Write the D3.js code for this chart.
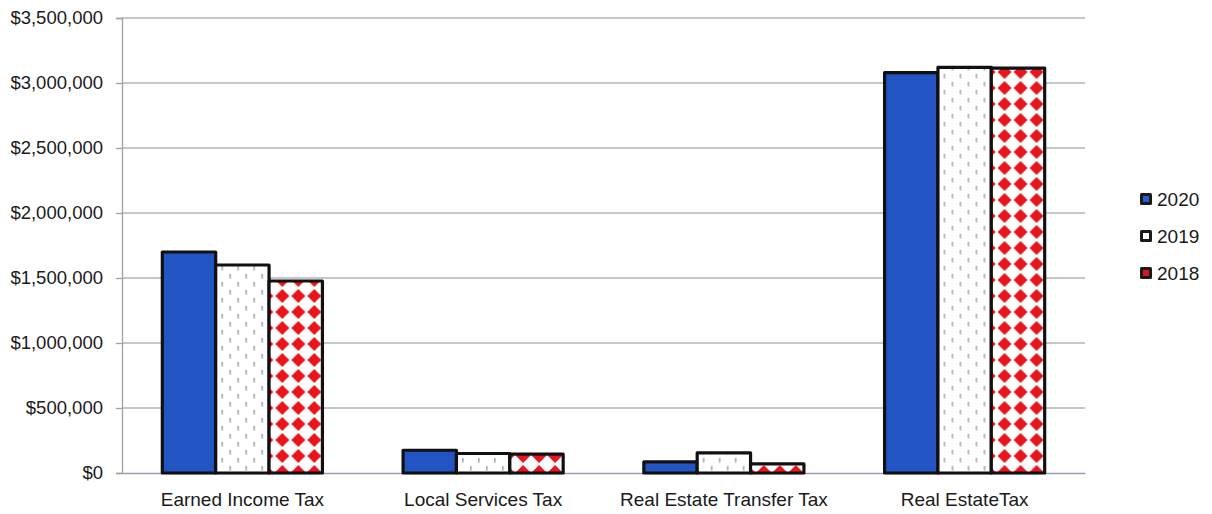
<!DOCTYPE html>
<html>
<head>
<meta charset="utf-8">
<script src="https://cdn.jsdelivr.net/npm/d3@7"></script>
<style>
  html, body { margin: 0; padding: 0; background: #fff; }
  svg { display: block; }
  text { font-family: "Liberation Sans", Arial, sans-serif; fill: #1a1a1a; }
</style>
</head>
<body>
<svg id="chart" width="1212" height="514"></svg>
<script>
// Tax revenue by type, three fiscal years
const categories = ["Earned Income Tax", "Local Services Tax", "Real Estate Transfer Tax", "Real EstateTax"];
const years = ["2020", "2019", "2018"];
const values2020 = [1700000, 175000, 85000, 3080000];
const values2019 = [1600000, 150000, 155000, 3120000];
const values2018 = [1477000, 145000, 70000, 3115000];
const yTicks = [0, 500000, 1000000, 1500000, 2000000, 2500000, 3000000, 3500000];

const seriesValues = [values2020, values2019, values2018];

const svg = d3.select("#chart");
const margin = { left: 122, right: 127, top: 18, bottom: 41 };
const W = 1212, H = 514;

const x0 = d3.scaleBand().domain(categories)
  .range([margin.left, W - margin.right]).paddingInner(0.335).paddingOuter(0.1675);
const x1 = d3.scaleBand().domain(years).range([0, x0.bandwidth()]);
const y = d3.scaleLinear().domain([0, 3500000]).range([H - margin.bottom, margin.top]);

// fill patterns
const defs = svg.append("defs");
const pBlue = "#2254c4";

const dots = defs.append("pattern").attr("id", "pat2019")
  .attr("patternUnits", "userSpaceOnUse").attr("width", 16).attr("height", 16);
dots.append("rect").attr("width", 16).attr("height", 16).attr("fill", "#fff");
dots.append("rect").attr("x", 3).attr("y", 2).attr("width", 1.6).attr("height", 4.5).attr("fill", "#a8a8b4");
dots.append("rect").attr("x", 11).attr("y", 10).attr("width", 1.6).attr("height", 4.5).attr("fill", "#a8a8b4");

const diam = defs.append("pattern").attr("id", "pat2018")
  .attr("patternUnits", "userSpaceOnUse").attr("width", 16).attr("height", 16)
  .attr("x", 0).attr("y", 0);
diam.append("rect").attr("width", 16).attr("height", 16).attr("fill", "#fff");
diam.append("path").attr("d", "M8,1 L15,8 L8,15 L1,8 Z").attr("fill", "#e6161c");

const fills = { "2020": pBlue, "2019": "url(#pat2019)", "2018": "url(#pat2018)" };

// gridlines
svg.append("g").selectAll("line").data(yTicks.slice(1)).join("line")
  .attr("x1", margin.left).attr("x2", W - margin.right)
  .attr("y1", d => y(d)).attr("y2", d => y(d))
  .attr("stroke", "#b4b4b4").attr("stroke-width", 1.3);

// y axis
const fmt = d => "$" + d3.format(",")(d);
const yAxis = svg.append("g").attr("transform", `translate(${margin.left},0)`)
  .call(d3.axisLeft(y).tickValues(yTicks).tickFormat(fmt).tickSize(6).tickPadding(13));
yAxis.select(".domain").attr("stroke", "#a0a0a0").attr("stroke-width", 1.3);
yAxis.selectAll(".tick line").attr("stroke", "#a0a0a0").attr("stroke-width", 1.3);
yAxis.selectAll(".tick text").attr("font-size", 18.5).attr("font-family", "Liberation Sans, Arial, sans-serif").attr("fill", "#1a1a1a");

// x axis
const xAxis = svg.append("g").attr("transform", `translate(0,${y(0)})`)
  .call(d3.axisBottom(x0).tickSize(0).tickPadding(20));
xAxis.select(".domain").attr("stroke", "#9a9ac8").attr("stroke-width", 1.3);
xAxis.selectAll(".tick text").attr("font-size", 19).attr("font-family", "Liberation Sans, Arial, sans-serif").attr("fill", "#1a1a1a");

// bars
const rows = categories.map((c, i) => ({ cat: c, vals: years.map((yr, j) => ({ yr, v: seriesValues[j][i] })) }));
svg.append("g").selectAll("g").data(rows).join("g")
  .attr("transform", d => `translate(${x0(d.cat)},0)`)
  .selectAll("rect").data(d => d.vals).join("rect")
  .attr("x", d => x1(d.yr))
  .attr("width", x1.bandwidth())
  .attr("y", d => y(d.v))
  .attr("height", d => y(0) - y(d.v))
  .attr("fill", d => fills[d.yr])
  .attr("stroke", "#111").attr("stroke-width", 3.2).attr("stroke-linejoin", "round");

// legend
const legend = svg.append("g").attr("transform", "translate(1140,199)");
const lg = legend.selectAll("g").data(years).join("g")
  .attr("transform", (d, i) => `translate(0,${i * 37})`);
lg.append("rect").attr("x", 0).attr("y", -6).attr("width", 12).attr("height", 12).attr("rx", 1.5)
  .attr("fill", "#1a1a1a");
lg.append("rect").attr("x", 3).attr("y", -3).attr("width", 6).attr("height", 6)
  .attr("fill", d => d === "2020" ? "#2a5ad0" : d === "2019" ? "#fff" : "#e0141c");
lg.append("text").attr("x", 17).attr("y", 0).attr("dy", "0.35em")
  .attr("font-size", 19).text(d => d);
</script>
</body>
</html>
